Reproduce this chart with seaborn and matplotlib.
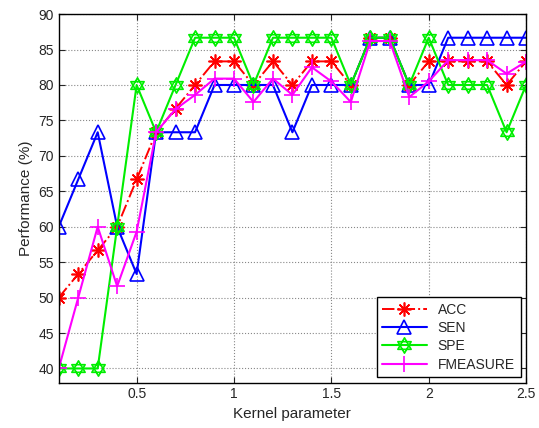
import matplotlib
matplotlib.use("Agg")
import matplotlib.pyplot as plt
import seaborn as sns
from matplotlib.path import Path

kernel = [0.1, 0.2, 0.3, 0.4, 0.5, 0.6, 0.7, 0.8, 0.9, 1.0, 1.1, 1.2, 1.3,
          1.4, 1.5, 1.6, 1.7, 1.8, 1.9, 2.0, 2.1, 2.2, 2.3, 2.4, 2.5]
acc = [50, 53.33, 56.67, 60, 66.67, 73.33, 76.67, 80, 83.33, 83.33, 80, 83.33, 80,
       83.33, 83.33, 80, 86.67, 86.67, 80, 83.33, 83.33, 83.33, 83.33, 80, 83.33]
sen = [60, 66.67, 73.33, 60, 53.33, 73.33, 73.33, 73.33, 80, 80, 80, 80, 73.33,
       80, 80, 80, 86.67, 86.67, 80, 80, 86.67, 86.67, 86.67, 86.67, 86.67]
spe = [40, 40, 40, 60, 80, 73.33, 80, 86.67, 86.67, 86.67, 80, 86.67, 86.67,
       86.67, 86.67, 80, 86.67, 86.67, 80, 86.67, 80, 80, 80, 73.33, 80]
fmeasure = [40, 50, 60, 51.6, 59.3, 73.33, 76.6, 78.6, 80.9, 80.9, 77.6, 80.9, 78.6,
            82.5, 80.5, 77.6, 86.2, 86.2, 78.3, 80.5, 83.5, 83.5, 83.5, 81.6, 83.3]

# hexagram marker (two overlapping triangles)
verts = [(0, 1), (-0.866, -0.5), (0.866, -0.5), (0, 1),
         (0, -1), (-0.866, 0.5), (0.866, 0.5), (0, -1)]
codes = [Path.MOVETO, Path.LINETO, Path.LINETO, Path.CLOSEPOLY] * 2
hexagram = Path(verts, codes)

sns.set_style("ticks")
plt.rcParams['font.family'] = ['Liberation Sans', 'DejaVu Sans']

fig = plt.figure(figsize=(5.39, 4.28), dpi=100)
ax = fig.add_axes([0.109, 0.106, 0.867, 0.861])

sns.lineplot(x=kernel, y=acc, ax=ax, color='red', linestyle='-.', linewidth=1.4,
             marker=(8, 2, 0), markersize=10, markeredgewidth=1.2,
             markeredgecolor='red', label='ACC')
sns.lineplot(x=kernel, y=sen, ax=ax, color='blue', linestyle='-', linewidth=1.5,
             marker='^', markersize=10, markeredgewidth=1.2, markerfacecolor='none',
             markeredgecolor='blue', label='SEN')
sns.lineplot(x=kernel, y=spe, ax=ax, color='#00ee00', linestyle='-', linewidth=1.5,
             marker=hexagram, markersize=11, markeredgewidth=1.2, markerfacecolor='none',
             markeredgecolor='#00ee00', label='SPE')
sns.lineplot(x=kernel, y=fmeasure, ax=ax, color='magenta', linestyle='-', linewidth=1.5,
             marker='+', markersize=12, markeredgewidth=1.2,
             markeredgecolor='magenta', label='FMEASURE')

ax.set_xlim(0.1, 2.5)
ax.set_ylim(38, 90)
ax.set_xticks([0.5, 1, 1.5, 2, 2.5])
ax.set_xticklabels(['0.5', '1', '1.5', '2', '2.5'])
ax.set_yticks(range(40, 91, 5))
ax.grid(True, color='#888888', linestyle=':', linewidth=0.8)
ax.tick_params(direction='in', top=True, right=True, labelsize=10, length=4)
for s in ax.spines.values():
    s.set_color('black')
    s.set_linewidth(1.0)
ax.set_xlabel('Kernel parameter', fontsize=11)
ax.set_ylabel('Performance (%)', fontsize=11)

leg = ax.legend(loc='lower right', fontsize=10, frameon=True, fancybox=False,
                edgecolor='black', framealpha=1, borderaxespad=0.4,
                handlelength=3.2, labelspacing=0.3)
leg.get_frame().set_linewidth(1.0)

fig.savefig('out.png', dpi=100)
